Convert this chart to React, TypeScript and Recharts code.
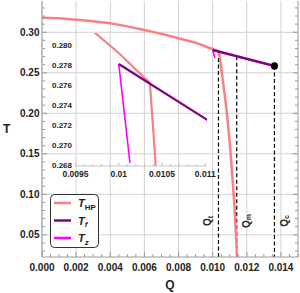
import React from "react";
import {
  LineChart,
  Line,
  XAxis,
  YAxis,
  CartesianGrid,
  ReferenceLine,
  ReferenceDot,
} from "recharts";

// T_HP curve (Q, T)
const HP_Q = [
  0, 0.001, 0.002, 0.003, 0.004, 0.005, 0.006, 0.007, 0.008, 0.009, 0.0097,
  0.01, 0.01036, 0.01042, 0.0106, 0.0108, 0.011, 0.01114, 0.01128, 0.01138,
  0.01143,
];
const HP_T = [
  0.318, 0.3172, 0.3156, 0.3137, 0.3111, 0.3073, 0.3029, 0.298, 0.2927,
  0.287, 0.2815, 0.2793, 0.2763, 0.269, 0.24, 0.207, 0.164, 0.126, 0.0847,
  0.0436, 0.018,
];
// T_f
const F_Q = [0.01, 0.01362];
const F_T = [0.2782, 0.2584];
// T_z
const Z_Q = [0.01, 0.01013];
const Z_T = [0.2782, 0.2683];

// marked Q values and where their dashed lines start
const MARK_SUB = ["t", "m", "c"];
const MARK_Q = [0.01034, 0.01141, 0.01362];
const MARK_TOP = [0.2764, 0.2704, 0.2584];
const MARK_DX = [-10.5, 9.5, 10];

const X_TICKS = [0, 0.002, 0.004, 0.006, 0.008, 0.01, 0.012, 0.014];
const Y_TICKS = [0.05, 0.1, 0.15, 0.2, 0.25, 0.3];
const IN_X_TICKS = [0.0095, 0.01, 0.0105, 0.011];
const IN_Y_TICKS = [0.268, 0.27, 0.272, 0.274, 0.276, 0.278, 0.28];

const X_DOMAIN = [0, 0.015];
const Y_DOMAIN = [0.0226, 0.3386];
const IN_X_DOMAIN = [0.0095, 0.01102];
const IN_Y_DOMAIN = [0.268, 0.2813];

const C_HP = "#f88080";
const C_F = "#800080";
const C_Z = "#ff00ff";
const AXIS = "#9a9a9a";
const FONT = "'Liberation Sans', Arial, sans-serif";

const toRows = (q: number[], t: number[]) => q.map((Q, i) => ({ Q, T: t[i] }));
const hp = toRows(HP_Q, HP_T);
const tf = toRows(F_Q, F_T);
const tz = toRows(Z_Q, Z_T);

const steps = (from: number, to: number, step: number) => {
  const out: number[] = [];
  const n = Math.round((to - from) / step);
  for (let i = 0; i <= n; i++) out.push(+(from + i * step).toFixed(6));
  return out;
};
const isOn = (v: number, step: number) =>
  Math.abs(v / step - Math.round(v / step)) < 1e-4;

const xMinor = steps(0, 0.015, 0.0005);
const yMinor = steps(0.03, 0.33, 0.01);
const inXMinor = steps(IN_X_TICKS[0], IN_X_TICKS[3], 0.0001);

const BottomTick = (props: any) => {
  const { x, y, payload } = props;
  const major = isOn(payload.value, 0.002);
  return (
    <g>
      <line x1={x} x2={x} y1={y} y2={y - (major ? 5 : 3)} stroke={AXIS} />
      {major && (
        <text x={x} y={y + 13.7} textAnchor="middle" fontSize={10} fontWeight="bold" fontFamily={FONT} fill="#222">
          {payload.value.toFixed(3)}
        </text>
      )}
    </g>
  );
};

const LeftTick = (props: any) => {
  const { x, y, payload } = props;
  const major = isOn(payload.value, 0.05);
  return (
    <g>
      <line x1={x} x2={x + (major ? 5 : 3)} y1={y} y2={y} stroke={AXIS} />
      {major && (
        <text x={x - 2.5} y={y + 3.5} textAnchor="end" fontSize={10} fontWeight="bold" fontFamily={FONT} fill="#222">
          {payload.value.toFixed(2)}
        </text>
      )}
    </g>
  );
};

const RightTick = (props: any) => {
  const { x, y, payload } = props;
  const major = isOn(payload.value, 0.05);
  return <line x1={x} x2={x - (major ? 5 : 3)} y1={y} y2={y} stroke={AXIS} />;
};

const InBottomTick = (props: any) => {
  const { x, y, payload } = props;
  const major = isOn(payload.value, 0.0005);
  return (
    <g>
      <line x1={x} x2={x} y1={y} y2={y - (major ? 3 : 1.8)} stroke="#bbb" />
      {major && (
        <text x={x} y={y + 10.5} textAnchor="middle" fontSize={8.5} fontWeight="bold" fontFamily={FONT} fill="#222">
          {String(payload.value)}
        </text>
      )}
    </g>
  );
};

const InLeftTick = (props: any) => {
  const { x, y, payload } = props;
  return (
    <text x={x - 3.5} y={y + 2} textAnchor="end" fontSize={8} fontWeight="bold" fontFamily={FONT} fill="#222">
      {payload.value.toFixed(3)}
    </text>
  );
};

const QLabel = (props: any) => {
  const { viewBox, sub, dx } = props;
  const cx = viewBox.x + dx;
  const cy = viewBox.y + viewBox.height - 36;
  return (
    <text
      x={cx}
      y={cy}
      transform={`rotate(-90 ${cx} ${cy})`}
      textAnchor="middle"
      dominantBaseline="central"
      fontSize={10}
      fontWeight="bold"
      fontFamily={FONT}
      fill="#222"
    >
      Q<tspan fontSize={7} dy={2}>{sub}</tspan>
    </text>
  );
};

const SERIES = [
  { main: "T", sub: "HP", italicSub: false, color: C_HP },
  { main: "T", sub: "f", italicSub: true, color: C_F },
  { main: "T", sub: "z", italicSub: true, color: C_Z },
];

function LegendBox() {
  return (
    <svg width={50} height={55} style={{ position: "absolute", left: 49.5, top: 193.5 }}>
      <rect x={0.5} y={0.5} width={48} height={53} rx={4} fill="#fff" stroke="#333" />
      {SERIES.map((s, i) => {
        const y = 9 + i * 17.5;
        return (
          <g key={s.sub}>
            <line x1={4} x2={21} y1={y} y2={y} stroke={s.color} strokeWidth={2.5} />
            <text x={28} y={y + 4} fontSize={11} fontWeight="bold" fontStyle="italic" fontFamily={FONT} fill="#222">
              {s.main}
              <tspan fontSize={8} dy={2.5} fontStyle={s.italicSub ? "italic" : "normal"}>
                {s.sub}
              </tspan>
            </text>
          </g>
        );
      })}
    </svg>
  );
}

export default function App() {
  return (
    <div style={{ position: "absolute", left: 0, top: 0, width: 300, height: 293 }}>
      <div style={{ position: "absolute", left: 0, top: 0 }}>
        <LineChart width={300} height={293} margin={{ top: 1, right: 1, bottom: 0, left: 0 }}>
          <CartesianGrid
            stroke="#d2d2d2"
            horizontalValues={Y_TICKS}
            verticalValues={X_TICKS}
          />
          <XAxis
            dataKey="Q"
            type="number"
            domain={X_DOMAIN}
            allowDataOverflow
            ticks={xMinor}
            interval={0}
            height={36}
            tickSize={0}
            tickMargin={0}
            tickLine={false}
            axisLine={{ stroke: AXIS }}
            tick={<BottomTick />}
            label={{
              value: "Q",
              position: "insideBottom",
              offset: 4,
              fontSize: 12,
              fontWeight: "bold",
              fontFamily: FONT,
              fill: "#222",
            }}
          />
          <YAxis
            type="number"
            domain={Y_DOMAIN}
            allowDataOverflow
            ticks={yMinor}
            interval={0}
            width={42}
            tickSize={0}
            tickMargin={0}
            tickLine={false}
            axisLine={{ stroke: AXIS }}
            tick={<LeftTick />}
            label={{
              value: "T",
              position: "insideLeft",
              offset: 3,
              fontSize: 12,
              fontWeight: "bold",
              fontFamily: FONT,
              fill: "#222",
            }}
          />
          <YAxis
            yAxisId="r"
            orientation="right"
            type="number"
            domain={Y_DOMAIN}
            allowDataOverflow
            ticks={yMinor}
            interval={0}
            width={1}
            tickSize={0}
            tickMargin={0}
            tickLine={false}
            axisLine={{ stroke: AXIS }}
            tick={<RightTick />}
          />
          {MARK_Q.map((q, i) => (
            <ReferenceLine
              key={MARK_SUB[i]}
              segment={[
                { x: q, y: MARK_TOP[i] },
                { x: q, y: Y_DOMAIN[0] },
              ]}
              stroke="#000"
              strokeWidth={1.2}
              strokeDasharray="4 2.5"
              label={<QLabel sub={MARK_SUB[i]} dx={MARK_DX[i]} />}
            />
          ))}
          <Line data={hp} dataKey="T" type="linear" stroke={C_HP} strokeWidth={2.5} dot={false} isAnimationActive={false} />
          <Line data={tz} dataKey="T" type="linear" stroke={C_Z} strokeWidth={1.6} dot={false} isAnimationActive={false} />
          <Line data={tf} dataKey="T" type="linear" stroke={C_F} strokeWidth={2.5} dot={false} isAnimationActive={false} />
          <ReferenceDot x={F_Q[1]} y={F_T[1]} r={3.6} fill="#000" stroke="none" />
        </LineChart>
      </div>
      <div style={{ position: "absolute", left: 0, top: 0 }}>
        <LineChart width={300} height={293} margin={{ top: 33, right: 93, bottom: 0, left: 0 }}>
          <XAxis
            dataKey="Q"
            type="number"
            domain={IN_X_DOMAIN}
            allowDataOverflow
            ticks={inXMinor}
            interval={0}
            height={127}
            tickSize={0}
            tickMargin={0}
            tickLine={false}
            axisLine={{ stroke: "#c8c8c8" }}
            tick={<InBottomTick />}
          />
          <YAxis
            type="number"
            domain={IN_Y_DOMAIN}
            allowDataOverflow
            ticks={IN_Y_TICKS}
            interval={0}
            width={75.5}
            tickSize={0}
            tickMargin={0}
            tickLine={false}
            axisLine={false}
            tick={<InLeftTick />}
          />
          <Line data={hp} dataKey="T" type="linear" stroke={C_HP} strokeWidth={2.2} dot={false} isAnimationActive={false} />
          <Line data={tz} dataKey="T" type="linear" stroke={C_Z} strokeWidth={1.6} dot={false} isAnimationActive={false} />
          <Line data={tf} dataKey="T" type="linear" stroke={C_F} strokeWidth={2.2} dot={false} isAnimationActive={false} />
        </LineChart>
      </div>
      <LegendBox />
    </div>
  );
}
